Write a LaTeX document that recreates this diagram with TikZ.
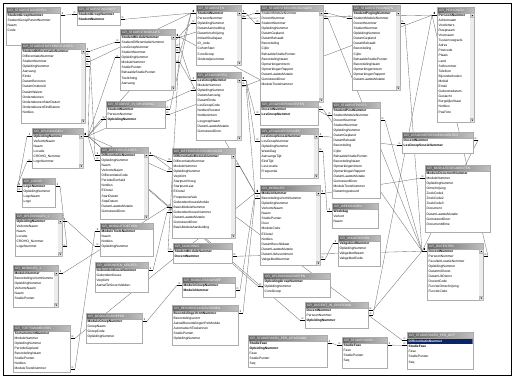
\documentclass[tikz,border=0pt]{standalone}
\usepackage{fontspec}
\setmainfont{Liberation Sans}
\usetikzlibrary{calc}
\pgfdeclarelayer{background}
\pgfsetlayers{background,main}
\definecolor{selblue}{RGB}{10,36,106}

\tikzset{
  tbody/.style={draw=gray!65, fill=white, line width=0.8pt, inner sep=0pt, anchor=north west},
  ttitle/.style={left color=black!60, right color=black!25, draw=gray!65, line width=0.8pt, inner sep=0pt, anchor=north west, minimum height=6pt},
  ttext/.style={anchor=west, inner sep=0pt, text=white, font=\fontsize{3.2}{4}\selectfont},
  tfield/.style={anchor=north west, inner sep=0pt, align=left, font=\fontsize{3.3}{5.1}\selectfont},
  sbbtn/.style={draw=gray!55, fill=gray!20, line width=0.25pt},
  relln/.style={black!55, line width=0.35pt},
  stub/.style={black, line width=0.55pt},
  relmk/.style={inner sep=0.2pt, font=\fontsize{3}{3}\selectfont}
}

% scrollbar on the right side of a table body
\newcommand\sbar[1]{%
  \fill[gray!15] ($(#1.north east)+(-4.6,0.4)$) rectangle ($(#1.south east)+(-0.4,-0.4)$);
  \draw[sbbtn] ($(#1.north east)+(-4.4,0.5)$) rectangle ++(3.9,4);
  \draw[sbbtn] ($(#1.south east)+(-4.4,-4.5)$) rectangle ++(3.9,4);
  \fill ($(#1.north east)+(-2.45,1.9)$) -- ++(1,1.2) -- ++(-2,0) -- cycle;
  \fill ($(#1.south east)+(-3.45,-3.2)$) -- ++(2,0) -- ++(-1,1.2) -- cycle;
}

% id, x, y, width, height, title, fields, scrollbar width
\newcommand\tbl[8]{%
  \node[tbody, minimum width=#4pt, minimum height={(#5-6)*1pt}] (#1) at (#2,{#3+6}) {};
  \node[ttitle, minimum width=#4pt] (#1t) at (#2,#3) {};
  \node[ttext] (#1n) at ($(#1t.west)+(2,0)$) {#6};
  \begin{scope}
    \clip (#2,{#3+6}) rectangle ({#2+#4-#8-0.5},{#3+#5});
    \node[tfield] (#1f) at ({#2+1.5},{#3+6.7}) {#7};
  \end{scope}
  \ifnum#8>0 \sbar{#1}\fi
  \foreach \i in {1,...,20}{%
    \coordinate (#1-L\i) at (#2,{#3+5.6+(\i-0.5)*5.1});
    \coordinate (#1-R\i) at ({#2+#4},{#3+5.6+(\i-0.5)*5.1});
  }%
}

% one side, stub dx, many side, stub dx
\newcommand\rel[4]{%
  \draw[relln] ($(#1)+(#2,0)$) -- ($(#3)+(#4,0)$);
  \draw[stub] (#1) -- ++(#2,0) node[relmk, pos=0.5, above] {1};
  \draw[stub] (#3) -- ++(#4,0) node[relmk, pos=0.5, above] {∞};
}

\newcommand\hlrow[1]{\rlap{\hspace{-1.5pt}\color{selblue}\rule[-1.4pt]{70pt}{5.1pt}}\textcolor{white}{\textbf{#1}}}

\begin{document}
\begin{tikzpicture}[x=1pt, y=-1pt]
  \useasboundingbox (0,0) rectangle (516,379);
  \draw[line width=0.8pt] (3,3) rectangle (511,375);

  % tables
  \tbl{sgroepen}{6}{7}{54}{38}{GR\_STUDENTGROEPEN}{\textbf{StudentGroepNummer}\\StudentGroepParentNummer\\Naam\\Code}{0}
  \tbl{singroep}{77}{6}{43}{19}{GR\_STUDENTINGROEP}{\textbf{StudentGroepNummer}\\\textbf{StudentNummer}}{0}
  \tbl{sdiff}{21}{43}{64}{80}{GR\_STUDENTDIFFERENTIATIES}{\textbf{StudentDifferentiatieNummer}\\DifferentiatieNummer\\StudentNummer\\OpleidingNummer\\Aanvang\\Einde\\DatumBevroren\\DatumOntdooid\\DatumWaiver\\Ondertekenen\\OndertekenenStartDatum\\OndertekenenEindDatum\\Notities}{5}
  \tbl{studenten}{196}{5}{45}{60}{GR\_STUDENTEN}{\textbf{StudentNummer}\\PersoonNummer\\OpleidingNummer\\DatumAanmelding\\DatumInschrijving\\InitieelStudiejaar\\ID\_code\\CohortStart\\CoreGroep\\Onderwijsnummer}{5}
  \tbl{smodules}{120}{29}{55}{61}{GR\_STUDENTMODULES}{\textbf{StudentModuleNummer}\\StudentDifferentiatieNummer\\LesGroepNummer\\StudentNummer\\OpleidingNummer\\ModuleNummer\\StudiePunten\\BehaaldeStudiePunten\\Toelichting\\Aanvang}{5}
  \tbl{sinopl}{106}{101}{59}{27}{GR\_STUDENT\_IN\_OPLEIDING}{\textbf{StudentNummer}\\PersoonNummer\\\textbf{OpleidingNummer}}{0}
  \tbl{lesgroepen}{196}{72}{45}{68}{GR\_LESGROEPEN}{\textbf{LesGroepNummer}\\ModuleNummer\\OpleidingNummer\\DatumAanvang\\DatumEinde\\LesGroepCode\\NotitiesRooster\\NotitiesIntern\\LesgroepNaam\\DatumLaatsteMutatie\\GemuteerdDoor}{5}
  \tbl{sbeoord}{260}{5}{63}{97}{GR\_STUDENTBEOORDELINGEN}{StudentModuleNummer\\DocentNummer\\StudentNummer\\OpleidingNummer\\DatumGepland\\DatumBehaald\\Beoordeling\\Cijfer\\BehaaldeStudiePunten\\BeoordelingNaam\\OpmerkingenIntern\\OpmerkingenRapport\\DatumLaatsteMutatie\\GemuteerdDoor\\ModuleToetsNummer}{5}
  \tbl{spog}{352}{5}{48}{85}{GR\_STUDENTPOGINGEN}{\textbf{StudentPogingNummer}\\StudentModuleNummer\\DocentNummer\\StudentNummer\\OpleidingNummer\\DatumGepland\\DatumBehaald\\Beoordeling\\Cijfer\\BehaaldeStudiePunten\\BeoordelingNaam\\OpmerkingenIntern\\OpmerkingenRapport\\DatumLaatsteMutatie}{5}
  \tbl{lgdocenten}{260}{101}{58}{24}{GR\_LESGROEPDOCENTEN}{\textbf{DocentNummer}\\\textbf{LesGroepNummer}}{0}
  \tbl{sposts}{332}{102}{48}{96}{GR\_STUDENTPOSTS}{\textbf{StudentPostNummer}\\StudentModuleNummer\\DocentNummer\\StudentNummer\\OpleidingNummer\\DatumGepland\\DatumBehaald\\Beoordeling\\Cijfer\\BehaaldeStudiePunten\\BeoordelingNaam\\OpmerkingenIntern\\OpmerkingenRapport\\DatumLaatsteMutatie\\GemuteerdDoor\\ModuleToetsNummer\\DatumIngestuurd}{0}
  \tbl{personen}{437}{7}{37}{115}{GR\_PERSONEN}{\textbf{PersoonNummer}\\Achternaam\\Voorletters\\Roepnaam\\Voornaam\\Tussenvoegsels\\Adres\\Postcode\\Plaats\\Land\\Sofinummer\\Telefoon\\Bijzonderheden\\Mobiel\\Email\\Geboortedatum\\Geslacht\\BurgelijkeStaat\\Notities\\PasFoto}{5}
  \tbl{opleidingen}{32}{128}{51}{40}{GR\_OPLEIDINGEN}{\textbf{OpleidingNummer}\\VerkorteNaam\\Naam\\Locatie\\CROHO\_Nummer\\LogoNummer}{5}
  \tbl{logos}{22}{178}{33}{29}{GR\_LOGOS}{\textbf{LogoNummer}\\OpleidingNummer\\LogoNaam\\Logo}{0}
  \tbl{opl1}{15}{213}{47}{43}{GR\_OPLEIDINGEN\_1}{\textbf{OpleidingNummer}\\VerkorteNaam\\Naam\\Locatie\\CROHO\_Nummer\\LogoNummer}{5}
  \tbl{diffs}{100}{147}{48}{72}{GR\_DIFFERENTIATIES}{\textbf{DifferentiatieNummer}\\OpleidingNummer\\Naam\\VerkorteNaam\\DifferentiatieCode\\PeriodeEenheid\\Notities\\ECtotal\\StartDatum\\StopDatum\\DatumLaatsteMutatie\\GemuteerdDoor}{5}
  \tbl{mtoetsen}{100}{223}{53}{33}{GR\_MODULETOETSEN}{\textbf{ModuleToetsNummer}\\Naam\\Notities\\OpleidingNummer}{0}
  \tbl{diffmodules}{172}{148}{63}{90}{GR\_DIFFERENTIATIEMODULES}{\textbf{DifferentiatieModuleNummer}\\DifferentiatieNummer\\ModuleNummer\\OpleidingNummer\\Verplicht\\StartpuntVroeg\\StartpuntLaat\\ECtotal\\PropedeuseVak\\GebondenKeuzeModule\\BasisModuleNummer\\GebondenKeuzeNummer\\DatumLaatsteMutatie\\GemuteerdDoor\\BasisModuleAanduiding}{5}
  \tbl{coaching}{173}{243}{59}{20}{GR\_COACHING}{\textbf{StudentModuleNummer}\\\textbf{DocentNummer}}{0}
  \tbl{lgsessies}{260}{128}{58}{50}{GR\_LESGROEPSESSIES}{\textbf{LesGroepSessieNummer}\\LesGroepNummer\\OpleidingNummer\\WeekDag\\AanvangsTijd\\EindTijd\\LesLocatie\\Frequentie}{5}
  \tbl{modules}{260}{185}{60}{80}{GR\_MODULES}{\textbf{ModuleNummer}\\BeoordelingsVormNummer\\OpleidingNummer\\VerkorteNaam\\Naam\\StudiePunten\\Duur\\ModuleCode\\ECtotal\\Notities\\DatumBeschikbaar\\DatumLaatsteMutatie\\DatumUitAssortiment\\VakgebiedNummer}{5}
  \tbl{weekdagen}{332}{203}{46}{25}{GR\_WEEKDAGEN}{\textbf{Weekdag}\\Verkort\\Naam}{0}
  \tbl{vakgebieden}{338}{235}{42}{31}{GR\_VAKGEBIEDEN}{\textbf{VakgebiedNummer}\\OpleidingNummer\\VakgebiedNaam\\VakgebiedCode}{0}
  \tbl{lgsdocenten}{402}{132}{71}{21}{GR\_LESGROEPSESSIEDOCENTEN}{\textbf{DocentNummer}\\\textbf{LesGroepSessieNummer}}{0}
  \tbl{moduledocs}{425}{165}{65}{67}{GR\_MODULEDOCUMENTEN}{\textbf{ModuleDocumentNummer}\\ModuleNummer\\OpleidingNummer\\Omschrijving\\ZoekCode1\\ZoekCode2\\ZoekCode3\\Document\\DatumLaatsteMutatie\\GemuteerdDoor\\DocumentMime}{0}
  \tbl{docenten}{427}{243}{56}{57}{GR\_DOCENTEN}{\textbf{DocentNummer}\\PersoonNummer\\FaculteitLocatieNummer\\OpleidingNummer\\DatumInDienst\\DatumUitDienst\\DocentCode\\FunctieOmschrijving\\FunctieCode}{5}
  \tbl{modules1}{13}{265}{45}{42}{GR\_MODULES\_1}{\textbf{ModuleNummer}\\BeoordelingsVormNummer\\OpleidingNummer\\VerkorteNaam\\Naam\\StudiePunten}{5}
  \tbl{gebkeuzes}{95}{262}{53}{30}{GR\_GEBONDEN\_KEUZES}{\textbf{GebondenKeuzeNummer}\\GebondenKeuze\\Verplicht\\AantalTeKiezenVakken}{0}
  \tbl{toetsmomenten}{13}{325}{57}{47}{GR\_TOETSMOMENTEN}{\textbf{ToetsmomentNummer}\\ModuleNummer\\OpleidingNummer\\PeriodeGepland\\BeoordelingNaam\\StudiePunten\\Notities\\ModuleToetsNummer}{0}
  \tbl{modulegroepen}{86}{313}{56}{30}{GR\_MODULEGROEPEN}{\textbf{ModuleGroepNummer}\\GroepNaam\\GroepCode\\OpleidingNummer}{0}
  \tbl{modingroep}{182}{277}{53}{20}{GR\_MODULESINGROEP}{\textbf{ModuleGroepNummer}\\\textbf{ModuleNummer}}{0}
  \tbl{beoordvormen}{172}{305}{66}{40}{GR\_BEOORDELINGSVORMEN}{\textbf{BeoordelingsVormNummer}\\Beoordelingsvorm\\AantalBeoordelingenPerModule\\AutomatischToekennen\\StudiePunten\\OpleidingNummer}{0}
  \tbl{oplgroepen}{263}{273}{67}{24}{GR\_OPLEIDINGGROEPEN}{\textbf{OpleidingGroepNummer}\\OpleidingNummer\\CoreGroep}{0}
  \tbl{docinopl}{305}{302}{63}{26}{GR\_DOCENT\_IN\_OPLEIDING}{\textbf{DocentNummer}\\PersoonNummer\\\textbf{OpleidingNummer}}{0}
  \tbl{sfperopl}{248}{335}{79}{32}{GR\_STUDIEFASEN\_PER\_OPLEIDING}{\textbf{StudieFase}\\\textbf{OpleidingNummer}\\Fase\\StudiePunten\\Seq}{0}
  \tbl{studiefasen}{342}{337}{45}{31}{GR\_STUDIEFASEN}{\textbf{StudieFase}\\Fase\\StudiePunten\\Seq}{0}
  \tbl{sfperdiff}{407}{332}{66}{37}{GR\_STUDIEFASEN\_PER\_DIFF}{\hlrow{DifferentiatieNummer}\\\textbf{StudieFase}\\Fase\\StudiePunten\\Seq}{0}

  % relationships, under the tables
  \begin{pgfonlayer}{background}
  \rel{sgroepen-R1}{5}{singroep-L1}{-5}
  \rel{studenten-L1}{-5}{singroep-R2}{5}
  \rel{studenten-L1}{-5}{sdiff-R3}{5}
  \rel{studenten-L1}{-5}{smodules-R4}{5}
  \rel{studenten-L1}{-5}{sinopl-R1}{5}
  \rel{studenten-R1}{5}{sbeoord-L3}{-5}
  \rel{sdiff-R1}{5}{smodules-L2}{-5}
  \rel{lesgroepen-L1}{-5}{smodules-R3}{5}
  \rel{smodules-R1}{5}{sbeoord-L1}{-5}
  \rel{sbeoord-R1}{5}{spog-L2}{-5}
  \rel{smodules-R1}{5}{sposts-L2}{-5}
  \rel{smodules-R1}{5}{coaching-L1}{-5}
  \rel{personen-L1}{-5}{studenten-R2}{5}
  \rel{personen-L1}{-5}{docenten-R2}{5}
  \rel{personen-L1}{-5}{docinopl-R2}{5}
  \rel{personen-L1}{-5}{sinopl-R2}{5}
  \rel{docenten-L1}{-5}{spog-R3}{5}
  \rel{docenten-L1}{-5}{lgdocenten-R1}{5}
  \rel{docenten-L1}{-5}{sbeoord-R2}{5}
  \rel{docenten-L1}{-5}{sposts-R3}{5}
  \rel{docenten-L1}{-5}{coaching-R2}{5}
  \rel{docenten-L1}{-5}{docinopl-R1}{5}
  \rel{docenten-L1}{-5}{lgsdocenten-R1}{5}
  \rel{opleidingen-L1}{-5}{logos-L2}{-5}
  \rel{logos-L1}{-5}{opleidingen-L6}{-5}
  \rel{logos-R1}{5}{opl1-R6}{5}
  \rel{opl1-R1}{5}{mtoetsen-L4}{-5}
  \rel{opleidingen-R1}{5}{studenten-L3}{-5}
  \rel{opleidingen-R1}{5}{smodules-L5}{-5}
  \rel{opleidingen-R1}{5}{sinopl-L3}{-5}
  \rel{opleidingen-R1}{5}{sdiff-R4}{5}
  \rel{opleidingen-R1}{5}{diffs-L2}{-5}
  \rel{opleidingen-R1}{5}{lesgroepen-L3}{-5}
  \rel{opleidingen-R1}{5}{diffmodules-L4}{-5}
  \rel{opleidingen-R1}{5}{oplgroepen-L2}{-5}
  \rel{opleidingen-R1}{5}{docinopl-L3}{-5}
  \rel{diffs-R1}{5}{diffmodules-L2}{-5}
  \rel{diffs-L1}{-5}{sdiff-R2}{5}
  \rel{diffs-R1}{5}{sfperdiff-L1}{-5}
  \rel{modules-L1}{-5}{smodules-R6}{5}
  \rel{modules-L1}{-5}{diffmodules-R3}{5}
  \rel{modules-L1}{-5}{lesgroepen-R2}{5}
  \rel{modules-L1}{-5}{modingroep-R2}{5}
  \rel{modules-R1}{5}{moduledocs-L2}{-5}
  \rel{modules-L1}{-5}{toetsmomenten-R2}{5}
  \rel{mtoetsen-L1}{-5}{toetsmomenten-R8}{5}
  \rel{modules1-R1}{5}{diffmodules-L11}{-5}
  \rel{gebkeuzes-R1}{5}{diffmodules-L12}{-5}
  \rel{lesgroepen-R1}{5}{lgdocenten-L2}{-5}
  \rel{lesgroepen-R1}{5}{lgsessies-L2}{-5}
  \rel{lgsessies-R1}{5}{lgsdocenten-L2}{-5}
  \rel{weekdagen-L1}{-5}{lgsessies-R4}{5}
  \rel{vakgebieden-L1}{-5}{modules-R14}{5}
  \rel{beoordvormen-R1}{5}{modules-L2}{-5}
  \rel{modulegroepen-R1}{5}{modingroep-L1}{-5}
  \rel{sfperopl-R1}{5}{studiefasen-L1}{-5}
  \rel{studiefasen-R1}{5}{sfperdiff-L2}{-5}
  \end{pgfonlayer}
\end{tikzpicture}
\end{document}
